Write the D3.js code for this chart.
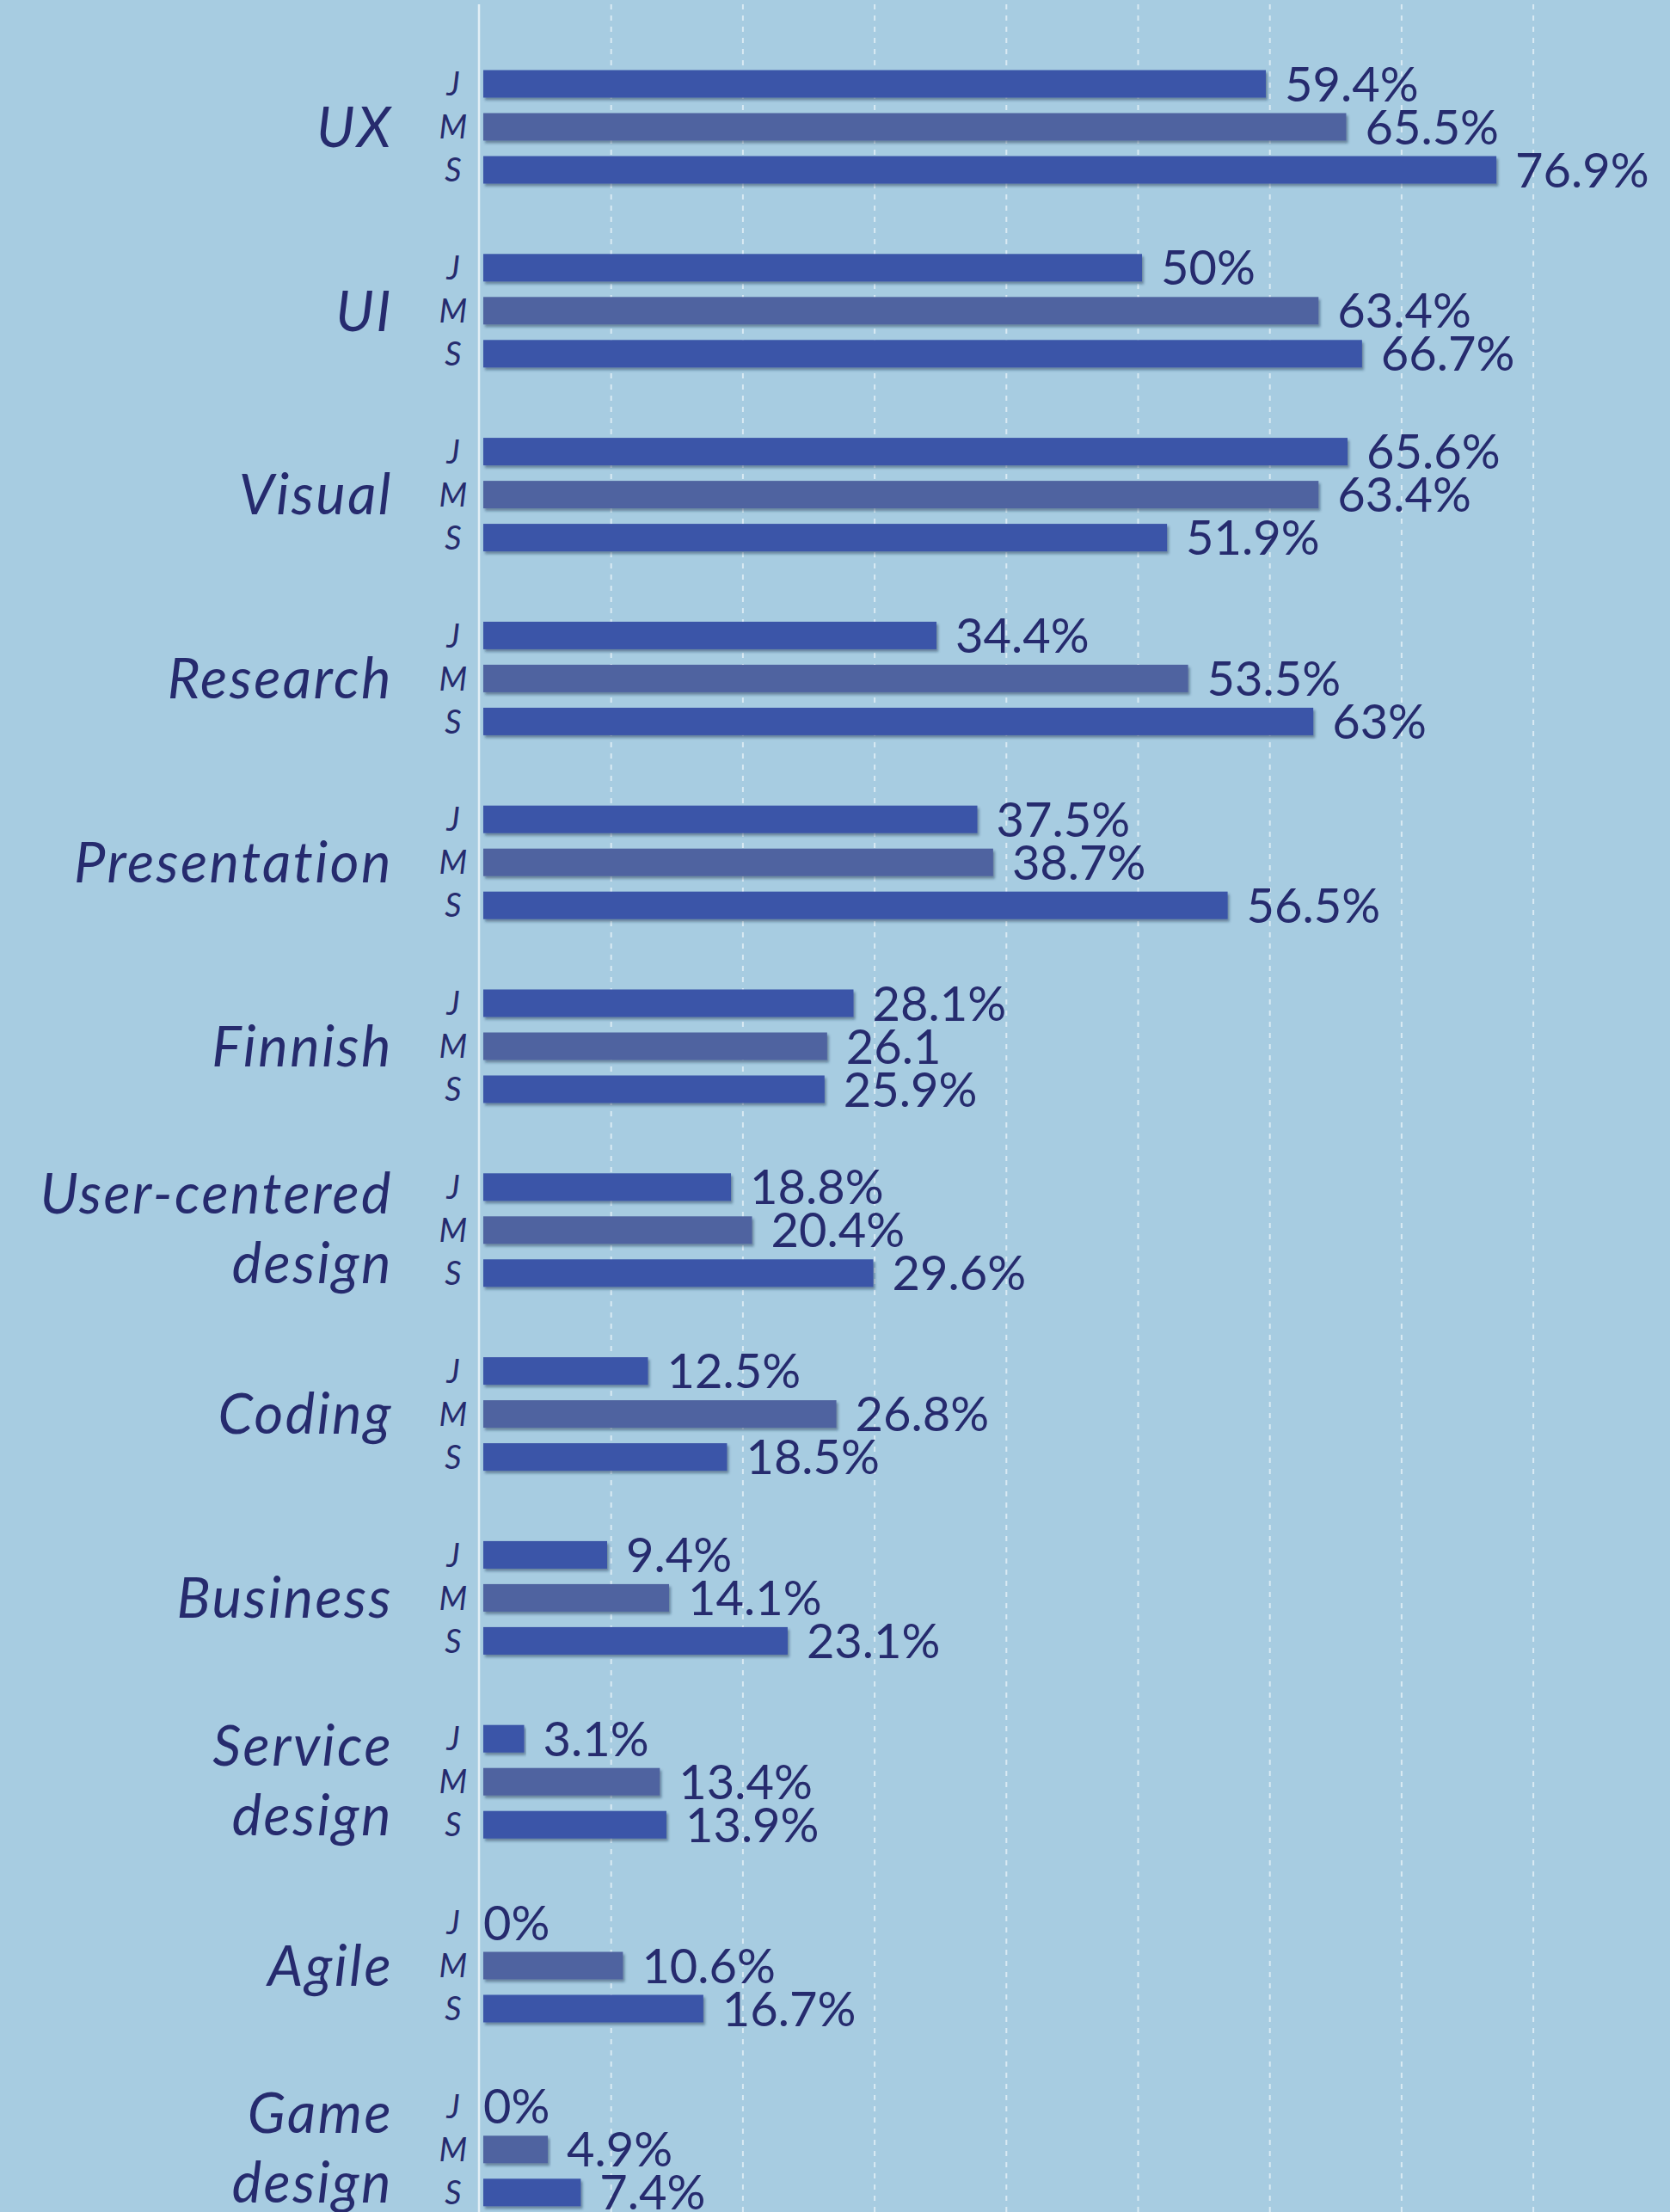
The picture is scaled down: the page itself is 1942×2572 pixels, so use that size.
<!DOCTYPE html>
<meta charset="utf-8">
<style>

body {
  margin: 0;
  background: #a7cce1;
}

svg {
  display: block;
  font-family: Lato, "Open Sans", sans-serif;
}

.grid line {
  stroke: #e6f1f7;
  stroke-width: 2;
  stroke-dasharray: 6 7;
  stroke-opacity: .8;
}

.grid path {
  display: none;
}

.zero {
  stroke: #e2eff6;
  stroke-width: 2.5;
}

.value,
.series,
.category {
  fill: #262b6e;
  font-weight: 400;
}

.series,
.category {
  font-style: italic;
}

.category {
  letter-spacing: 2.5px;
}

</style>
<body>
<script src="https://cdn.jsdelivr.net/npm/d3@7"></script>
<script>

var categories = ["UX", "UI", "Visual", "Research", "Presentation", "Finnish",
    "User-centered design", "Coding", "Business", "Service design", "Agile", "Game design"];

var seriesKeys = ["J", "M", "S"];

var juniorValues = [59.4, 50, 65.6, 34.4, 37.5, 28.1, 18.8, 12.5, 9.4, 3.1, 0, 0];
var midValues    = [65.5, 63.4, 63.4, 53.5, 38.7, 26.1, 20.4, 26.8, 14.1, 13.4, 10.6, 4.9];
var seniorValues = [76.9, 66.7, 51.9, 63, 56.5, 25.9, 29.6, 18.5, 23.1, 13.9, 16.7, 7.4];

var juniorLabels = ["59.4%", "50%", "65.6%", "34.4%", "37.5%", "28.1%", "18.8%", "12.5%", "9.4%", "3.1%", "0%", "0%"];
var midLabels    = ["65.5%", "63.4%", "63.4%", "53.5%", "38.7%", "26.1", "20.4%", "26.8%", "14.1%", "13.4%", "10.6%", "4.9%"];
var seniorLabels = ["76.9%", "66.7%", "51.9%", "63%", "56.5%", "25.9%", "29.6%", "18.5%", "23.1%", "13.9%", "16.7%", "7.4%"];

var gridTicks = [10, 20, 30, 40, 50, 60, 70, 80];

var width = 1942,
    height = 2572,
    barGap = 5,       // bars start a little right of the zero line
    labelGap = 22;

var values = { J: juniorValues, M: midValues, S: seniorValues },
    labels = { J: juniorLabels, M: midLabels, S: seniorLabels };

var x = d3.scaleLinear()
    .domain([0, 100])
    .range([557, 557 + 1532]);

var y0 = d3.scaleBand()
    .domain(categories)
    .range([81.5, 81.5 + categories.length * 213.8]);

var y1 = d3.scaleBand()
    .domain(seriesKeys)
    .range([0, 132])
    .paddingInner(0.36);

var color = d3.scaleOrdinal()
    .domain(seriesKeys)
    .range(["#3a54a8", "#5064a0", "#3a54a8"]);

var svg = d3.select("body").append("svg")
    .attr("width", width)
    .attr("height", height);

svg.append("defs").append("filter")
    .attr("id", "shadow")
    .attr("x", "-5%").attr("y", "-30%")
    .attr("width", "110%").attr("height", "180%")
  .append("feDropShadow")
    .attr("dx", 2)
    .attr("dy", 3)
    .attr("stdDeviation", 1.6)
    .attr("flood-color", "#1d2f4a")
    .attr("flood-opacity", 0.45);

svg.append("rect")
    .attr("width", width)
    .attr("height", height)
    .attr("fill", "#a7cce1");

// dashed grid
svg.append("g")
    .attr("class", "grid")
    .attr("transform", "translate(0,5)")
    .call(d3.axisBottom(x).tickValues(gridTicks).tickSize(height).tickFormat(""));

svg.append("line")
    .attr("class", "zero")
    .attr("x1", x(0)).attr("x2", x(0))
    .attr("y1", 5).attr("y2", height);

var rows = [];
categories.forEach(function(c, i) {
  seriesKeys.forEach(function(k) {
    rows.push({ category: c, key: k, value: values[k][i], label: labels[k][i] });
  });
});

var group = svg.selectAll(".group")
    .data(categories)
  .enter().append("g")
    .attr("class", "group")
    .attr("transform", function(d) { return "translate(0," + y0(d) + ")"; });

group.selectAll("rect")
    .data(function(c) { return rows.filter(function(r) { return r.category === c && r.value > 0; }); })
  .enter().append("rect")
    .attr("x", x(0) + barGap)
    .attr("y", function(d) { return y1(d.key); })
    .attr("width", function(d) { return x(d.value) - x(0); })
    .attr("height", y1.bandwidth())
    .attr("fill", function(d) { return color(d.key); })
    .attr("filter", "url(#shadow)");

group.selectAll(".value")
    .data(function(c) { return rows.filter(function(r) { return r.category === c; }); })
  .enter().append("text")
    .attr("class", "value")
    .attr("x", function(d) { return d.value > 0 ? x(d.value) + barGap + labelGap : x(0) + barGap; })
    .attr("y", function(d) { return y1(d.key) + y1.bandwidth() / 2; })
    .attr("dy", "0.36em")
    .style("font-size", "56px")
    .text(function(d) { return d.label; });

group.selectAll(".series")
    .data(seriesKeys)
  .enter().append("text")
    .attr("class", "series")
    .attr("x", 527)
    .attr("y", function(d) { return y1(d) + y1.bandwidth() / 2; })
    .attr("dy", "0.36em")
    .attr("text-anchor", "middle")
    .style("font-size", "38px")
    .text(function(d) { return d; });

// category names, two-word names go on two lines
var midY = y1("M") + y1.bandwidth() / 2;

group.append("text")
    .attr("class", "category")
    .attr("text-anchor", "end")
    .style("font-size", "65px")
    .each(function(d) {
      var words = d.split(" "),
          t = d3.select(this);
      if (words.length === 1) {
        t.append("tspan").attr("x", 457).attr("y", midY).attr("dy", "0.36em").text(d);
      } else {
        t.append("tspan").attr("x", 457).attr("y", midY - 19).text(words[0]);
        t.append("tspan").attr("x", 457).attr("y", midY + 62).text(words.slice(1).join(" "));
      }
    });

</script>
